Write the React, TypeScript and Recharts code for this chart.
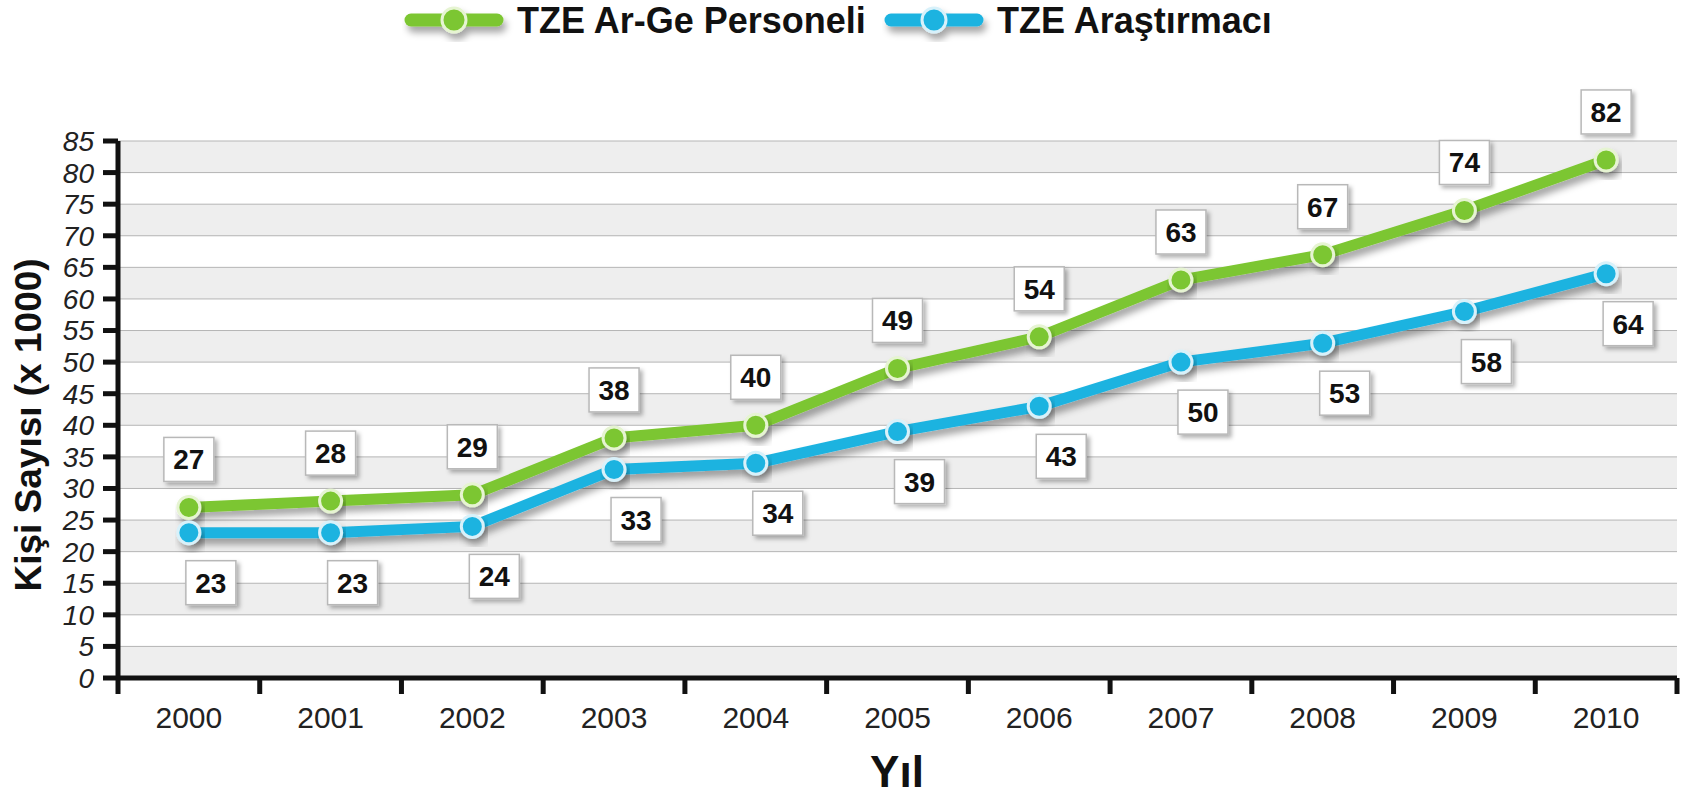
import React from 'react';
import { LineChart, Line, XAxis, YAxis, CartesianGrid, LabelList } from 'recharts';

const YEARS = ['2000', '2001', '2002', '2003', '2004', '2005', '2006', '2007', '2008', '2009', '2010'];
const PERSONEL = [27, 28, 29, 38, 40, 49, 54, 63, 67, 74, 82];
const ARASTIRMACI = [23, 23, 24, 33, 34, 39, 43, 50, 53, 58, 64];
const Y_TICKS = [0, 5, 10, 15, 20, 25, 30, 35, 40, 45, 50, 55, 60, 65, 70, 75, 80, 85];

const SERIES_NAMES = ['TZE Ar-Ge Personeli', 'TZE Araştırmacı'];

const W = 1686;
const H = 795;
const PLOT_LEFT = 118;
const PLOT_RIGHT = 1677;
const HALF_BAND = (PLOT_RIGHT - PLOT_LEFT) / YEARS.length / 2;

const GREEN = '#7cc630';
const GREEN_RING = '#e6f4d2';
const BLUE = '#1fb3e0';
const BLUE_RING = '#d8f1fa';
const FONT = '"Liberation Sans", Arial, Helvetica, sans-serif';

const data = YEARS.map((year, i) => ({
  year,
  personel: PERSONEL[i],
  arastirmaci: ARASTIRMACI[i],
}));

// box label; dx/dy place it relative to the point
const boxLabel = (dx: number, dy: number) => (props: any) => {
  const { x, y, value } = props;
  const cx = x + dx;
  const cy = y + dy;
  return (
    <g>
      <rect
        x={cx - 25}
        y={cy - 22}
        width={50}
        height={44}
        fill="#fff"
        stroke="#b8b8b8"
        strokeWidth={1.5}
        filter="url(#boxShadow)"
      />
      <text
        x={cx}
        y={cy + 10}
        textAnchor="middle"
        fontFamily={FONT}
        fontWeight="bold"
        fontSize={28}
        fill="#111"
      >
        {value}
      </text>
    </g>
  );
};

const YearTick = (props: any) => {
  const { x, y, payload, index } = props;
  const last = index === YEARS.length - 1;
  return (
    <g>
      <line x1={x - HALF_BAND} y1={y} x2={x - HALF_BAND} y2={y + 16} stroke="#111" strokeWidth={5} />
      {last && <line x1={x + HALF_BAND} y1={y} x2={x + HALF_BAND} y2={y + 16} stroke="#111" strokeWidth={5} />}
      <text x={x} y={y + 50} textAnchor="middle" fontFamily={FONT} fontSize={30} fill="#222">
        {payload.value}
      </text>
    </g>
  );
};

const LegendItem = ({ x, color, ring, label }: { x: number; color: string; ring: string; label: string }) => (
  <g>
    <g filter="url(#lineShadow)">
      <line x1={x} y1={20} x2={x + 86} y2={20} stroke={color} strokeWidth={13} strokeLinecap="round" />
      <circle cx={x + 43} cy={20} r={12} fill={color} stroke={ring} strokeWidth={3} />
    </g>
    <text x={x + 106} y={33} fontFamily={FONT} fontWeight="bold" fontSize={36} fill="#111">
      {label}
    </text>
  </g>
);

export default function App() {
  return (
    <div style={{ position: 'absolute', left: 0, top: 0, width: W, height: H, background: '#fff' }}>
      <LineChart width={W} height={H} data={data} margin={{ top: 141, right: W - PLOT_RIGHT, bottom: 57, left: 0 }}>
        <defs>
          <filter id="lineShadow" x="-10%" y="-10%" width="130%" height="150%">
            <feDropShadow dx={3} dy={6} stdDeviation={3.5} floodColor="#000" floodOpacity={0.35} />
          </filter>
          <filter id="boxShadow" x="-20%" y="-20%" width="150%" height="150%">
            <feDropShadow dx={3} dy={3} stdDeviation={2} floodColor="#000" floodOpacity={0.3} />
          </filter>
        </defs>
        <CartesianGrid vertical={false} stroke="#b5b5b5" horizontalFill={['#eeeeee', '#ffffff']} fillOpacity={1} />
        <XAxis
          dataKey="year"
          height={60}
          padding={{ left: HALF_BAND, right: HALF_BAND }}
          tickLine={false}
          tickSize={0}
          tickMargin={0}
          interval={0}
          axisLine={{ stroke: '#111', strokeWidth: 5 }}
          tick={<YearTick />}
        />
        <YAxis
          width={PLOT_LEFT}
          domain={[0, 85]}
          ticks={Y_TICKS}
          interval={0}
          tickSize={15}
          tickMargin={9}
          axisLine={{ stroke: '#111', strokeWidth: 5 }}
          tickLine={{ stroke: '#111', strokeWidth: 5 }}
          tick={{ fill: '#222', fontSize: 28, fontStyle: 'italic', fontFamily: FONT }}
        />
        <Line
          dataKey="personel"
          stroke={GREEN}
          strokeWidth={11}
          filter="url(#lineShadow)"
          dot={{ r: 11, fill: GREEN, stroke: GREEN_RING, strokeWidth: 3 }}
          activeDot={false}
          isAnimationActive={false}
        >
          <LabelList dataKey="personel" content={boxLabel(0, -48)} />
        </Line>
        <Line
          dataKey="arastirmaci"
          stroke={BLUE}
          strokeWidth={11}
          filter="url(#lineShadow)"
          dot={{ r: 11, fill: BLUE, stroke: BLUE_RING, strokeWidth: 3 }}
          activeDot={false}
          isAnimationActive={false}
        >
          <LabelList dataKey="arastirmaci" content={boxLabel(22, 50)} />
        </Line>
        <LegendItem x={411} color={GREEN} ring={GREEN_RING} label={SERIES_NAMES[0]} />
        <LegendItem x={891} color={BLUE} ring={BLUE_RING} label={SERIES_NAMES[1]} />
        <text
          x={41}
          y={425}
          transform="rotate(-90 41 425)"
          textAnchor="middle"
          fontFamily={FONT}
          fontWeight="bold"
          fontSize={37}
          fill="#111"
        >
          Kişi Sayısı (x 1000)
        </text>
        <text x={897} y={787} textAnchor="middle" fontFamily={FONT} fontWeight="bold" fontSize={44} fill="#111">
          Yıl
        </text>
      </LineChart>
    </div>
  );
}
